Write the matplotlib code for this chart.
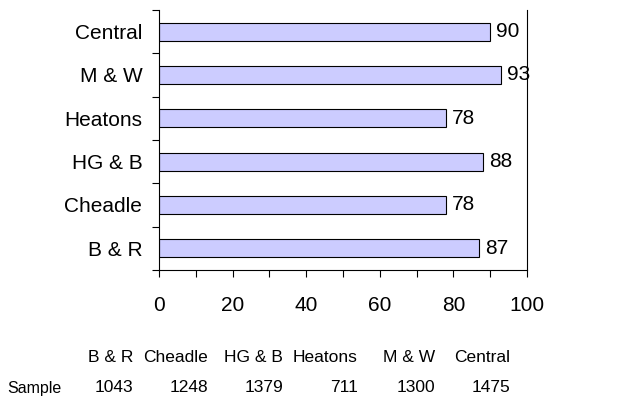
import matplotlib.pyplot as plt
import numpy as np

plt.rcParams['font.family'] = ['Liberation Sans', 'DejaVu Sans']

areas = ['B & R', 'Cheadle', 'HG & B', 'Heatons', 'M & W', 'Central']
scores = [87, 78, 88, 78, 93, 90]
samples = [1043, 1248, 1379, 711, 1300, 1475]
xticks = [0, 20, 40, 60, 80, 100]

W, H = 642, 403
fig = plt.figure(figsize=(W / 100, H / 100), dpi=100)
ax = fig.add_axes([159 / W, 1 - 270 / H, (527 - 159) / W, 260 / H])

y = np.arange(len(areas))
ax.barh(y, scores, height=0.41, color='#ccccff', edgecolor='black', linewidth=0.8)
for yi, s in zip(y, scores):
    ax.text(s + 1.7, yi, str(s), va='center', ha='left', fontsize=15)

ax.set_xlim(0, 100)
ax.set_ylim(-0.5, len(areas) - 0.5)
ax.set_yticks(y)
ax.set_yticklabels(areas, fontsize=15)
ax.set_yticks(np.arange(-0.5, len(areas), 1), minor=True)
ax.tick_params(axis='y', which='major', length=0, pad=12)
ax.tick_params(axis='y', which='minor', length=5, width=0.8)
ax.set_xticks(xticks)
ax.set_xticklabels([str(t) for t in xticks], fontsize=15)
ax.set_xticks(np.arange(0, 101, 10), minor=True)
ax.tick_params(axis='x', which='both', length=5, width=0.8, pad=14)
ax.spines['top'].set_visible(False)
for sp in ['left', 'bottom', 'right']:
    ax.spines[sp].set_linewidth(0.8)

# sample size table under the chart
col_right = [133, 208, 283, 358, 435, 510]
for xr, name, n in zip(col_right, areas, samples):
    fig.text(xr / W, 1 - 357 / H, name, ha='right', va='center', fontsize=12.5)
    fig.text(xr / W, 1 - 388 / H, str(n), ha='right', va='center', fontsize=12.5)
fig.text(7 / W, 1 - 388 / H, 'Sample', ha='left', va='center', fontsize=11.5)

fig.savefig('out.png', dpi=100)
